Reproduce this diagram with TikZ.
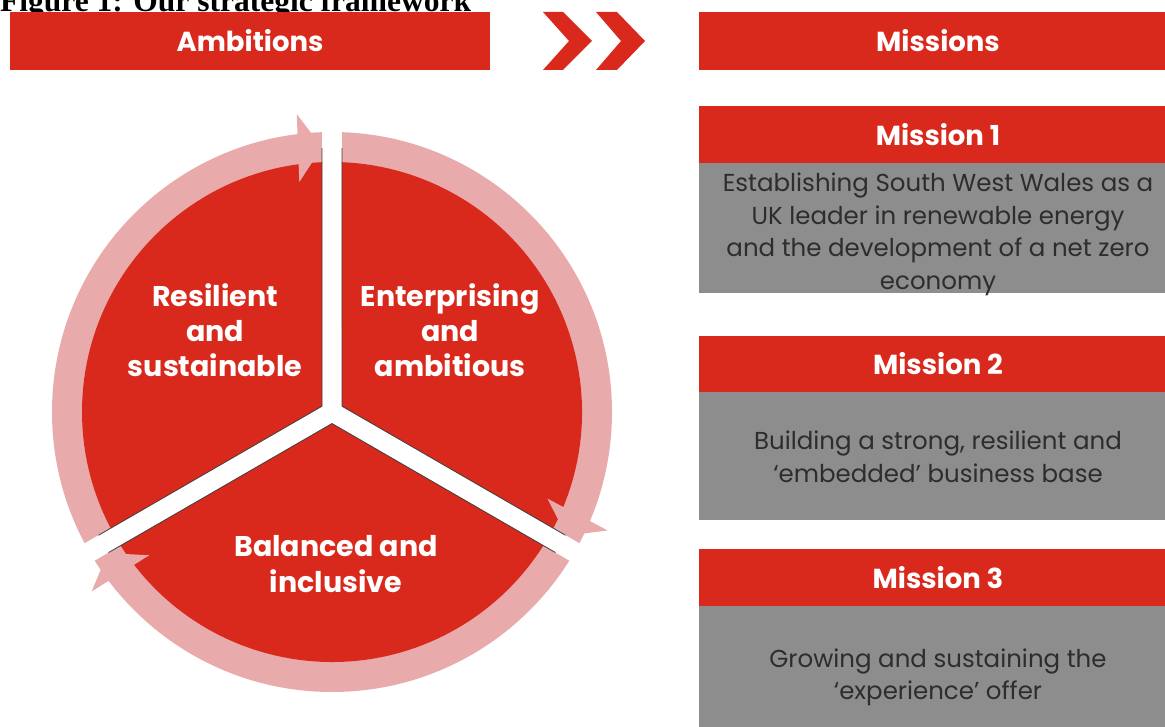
\documentclass[tikz,border=0pt]{standalone}
\usepackage{fontspec}
\setmainfont{Poppins}
\newfontfamily\titlefont{Liberation Serif}
\usetikzlibrary{calc}
\definecolor{rd}{RGB}{217,41,28}
\definecolor{pk}{RGB}{232,170,170}
\definecolor{gr}{RGB}{141,141,141}
\definecolor{tx}{RGB}{45,45,45}
\tikzset{
  hdr/.style={fill=rd, text=white, font=\bfseries\fontsize{27.5}{30}\selectfont, inner sep=0pt, minimum width=478pt},
  bodybox/.style={fill=gr, inner sep=0pt, minimum width=478pt},
  btxt/.style={text=tx, font=\fontsize{24.5}{28}\selectfont, anchor=base, inner sep=0pt},
  stxt/.style={text=white, font=\bfseries\fontsize{28.5}{32}\selectfont, anchor=base, inner sep=0pt},
  chev/.style={fill=rd},
  pinkring/.style={fill=pk},
  redsector/.style={fill=rd},
  gapline/.style={draw=black!75, line width=0.8pt},
  gapbar/.style={draw=white, line width=20pt}
}
\begin{document}
\begin{tikzpicture}[x=1pt,y=1pt]
\useasboundingbox (0,0) rectangle (1165,726);
\clip (0,0) rectangle (1165,726);
% title
\node[anchor=base west, inner sep=0pt, font=\titlefont\bfseries\fontsize{31.5}{34}\selectfont] (title) at (0,714) {Figure 1: Our strategic framework};
% top bars
\node[hdr, minimum width=480pt, minimum height=58pt] (amb) at (250,685) {Ambitions};
\node[hdr, minimum height=58pt] (mis) at (938,685) {Missions};
% chevrons
\fill[chev] (543,714) -- (563,714) -- (592,685) -- (563,656) -- (543,656) -- (569,685) -- cycle;
\fill[chev] (596,714) -- (617,714) -- (645,685) -- (617,656) -- (596,656) -- (621,685) -- cycle;
% missions
\node[hdr, minimum height=57pt] (m1h) at (938,591.5) {Mission 1};
\node[bodybox, minimum height=130pt] (m1b) at (938,498) {};
\node[btxt] (m1l1) at (938,534) {Establishing South West Wales as a};
\node[btxt] (m1l2) at (938,501) {UK leader in renewable energy};
\node[btxt] (m1l3) at (938,469) {and the development of a net zero};
\node[btxt] (m1l4) at (938,436) {economy};
\node[hdr, minimum height=56pt] (m2h) at (938,362) {Mission 2};
\node[bodybox, minimum height=128pt] (m2b) at (938,270) {};
\node[btxt] (m2l1) at (938,276) {Building a strong, resilient and};
\node[btxt] (m2l2) at (938,243) {‘embedded’ business base};
\node[hdr, minimum height=57pt] (m3h) at (938,148.5) {Mission 3};
\node[bodybox, minimum height=130pt] (m3b) at (938,55) {};
\node[btxt] (m3l1) at (938,59) {Growing and sustaining the};
\node[btxt] (m3l2) at (938,27) {‘experience’ offer};
% circle
\coordinate (C) at (332,314);
\fill[pinkring, even odd rule] (C) circle (280pt) (C) circle (246pt);
\foreach \g in {90,-30,210} {
  \draw[gapbar] ($(C)+(\g:230pt)$) -- ($(C)+(\g:300pt)$);
}
\foreach \a in {-30,90,210} {
  \fill[redsector] ($(C)+(\a+60:11.55pt)$) -- ($(C)+(\a+2.29:250pt)$)
    arc[start angle=\a+2.29, end angle=\a+117.71, radius=250pt] -- cycle;
}
\foreach \g in {90,-30,210} {
  \pgfmathsetmacro{\al}{\g+2.16}
  \coordinate (T) at ($(C)+(\al:265pt)$);
  \coordinate (B) at ($(T)+(\al+90:24pt)$);
  \fill[pinkring] (T) -- ($(B)+(\al:34pt)$) -- ($(B)+(\al+180:34pt)$) -- cycle;
  \draw[gapline] ($(C)+(\g+60:11.55pt)$) -- ($(C)+(\g+2.17:264pt)$);
  \draw[gapline] ($(C)+(\g-60:11.55pt)$) -- ($(C)+(\g-2.17:264pt)$);
}
% sector labels
\node[stxt] (r1) at (215,419) {Resilient};
\node[stxt] (r2) at (215,384) {and};
\node[stxt] (r3) at (215,349) {sustainable};
\node[stxt] (e1) at (450,419) {Enterprising};
\node[stxt] (e2) at (450,384) {and};
\node[stxt] (e3) at (450,349) {ambitious};
\node[stxt] (b1) at (336,169) {Balanced and};
\node[stxt] (b2) at (336,133) {inclusive};
\end{tikzpicture}
\end{document}
